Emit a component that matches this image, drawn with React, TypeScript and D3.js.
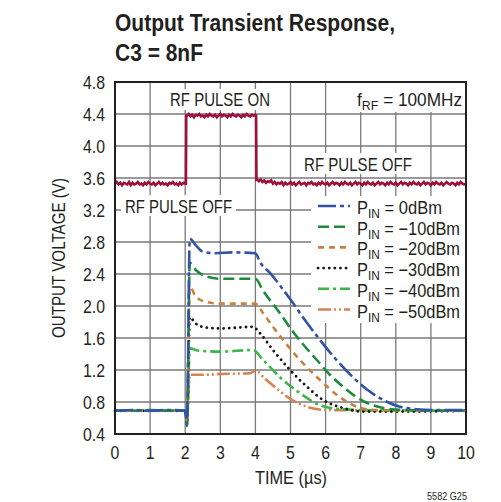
import React from "react";
import * as d3 from "d3";

const W = 501, H = 502;
const M = { left: 115, top: 82, right: 466, bottom: 434 };

const xTicks = [0, 1, 2, 3, 4, 5, 6, 7, 8, 9, 10];
const yTicks = [0.4, 0.8, 1.2, 1.6, 2.0, 2.4, 2.8, 3.2, 3.6, 4.0, 4.4, 4.8];

// RF pulse trace (noisy), sampled every 0.05µs, volts
const redLowV = [
  3.53, 3.55, 3.52, 3.54, 3.51, 3.54, 3.53, 3.52, 3.55, 3.51, 3.54, 3.52, 3.53, 3.55, 3.52, 3.53, 3.51, 3.54, 3.52, 3.55,
  3.53, 3.52, 3.54, 3.51, 3.53, 3.55, 3.52, 3.54, 3.52, 3.53, 3.51, 3.54, 3.53, 3.55, 3.52, 3.53, 3.51, 3.54, 3.52, 3.54, 3.53,
];
const redHighV = [
  4.38, 4.40, 4.37, 4.39, 4.36, 4.39, 4.38, 4.40, 4.37, 4.38, 4.36, 4.39, 4.37, 4.40, 4.38, 4.37, 4.39, 4.36, 4.38, 4.40,
  4.37, 4.39, 4.38, 4.36, 4.39, 4.37, 4.40, 4.38, 4.37, 4.39, 4.38, 4.36, 4.39, 4.37, 4.40, 4.38, 4.37, 4.39, 4.38, 4.39,
];
const redOffV = [
  3.58, 3.56, 3.58, 3.55, 3.57, 3.54, 3.56, 3.55, 3.57, 3.53,
  3.55, 3.52, 3.54, 3.53, 3.55, 3.51, 3.54, 3.52, 3.53, 3.55,
  3.52, 3.54, 3.51, 3.53, 3.55, 3.52, 3.53, 3.54, 3.51, 3.54,
  3.53, 3.55, 3.52, 3.53, 3.51, 3.54, 3.52, 3.55, 3.53, 3.52,
  3.54, 3.51, 3.53, 3.55, 3.52, 3.54, 3.53, 3.51, 3.54, 3.52,
  3.55, 3.53, 3.52, 3.54, 3.51, 3.53, 3.55, 3.52, 3.54, 3.53,
  3.51, 3.54, 3.52, 3.55, 3.53, 3.52, 3.54, 3.51, 3.53, 3.55,
  3.52, 3.54, 3.53, 3.51, 3.54, 3.52, 3.55, 3.53, 3.52, 3.54,
  3.51, 3.53, 3.55, 3.52, 3.54, 3.53, 3.51, 3.54, 3.52, 3.55,
  3.53, 3.52, 3.54, 3.51, 3.53, 3.55, 3.52, 3.54, 3.53, 3.51,
  3.54, 3.52, 3.55, 3.53, 3.52, 3.54, 3.51, 3.53, 3.55, 3.53,
  3.52, 3.54, 3.53, 3.51, 3.54, 3.52, 3.55, 3.53, 3.52, 3.53,
];
const redLowT = d3.range(0, 2.0001, 0.05);
const redHighT = d3.range(2.05, 4.0001, 0.05);
const redOffT = d3.range(4.05, 10.001, 0.05);
const redT = [...redLowT, 2.02, 2.03, ...redHighT, 4.02, 4.03, ...redOffT];
const redV = [...redLowV, 3.53, 4.38, ...redHighV, 4.38, 3.58, ...redOffV];

// Output voltage traces for each input power
const p0T = [0, 0.5, 1.0, 1.5, 2.0, 2.05, 2.13, 2.3, 2.5, 2.8, 3.4, 4.0, 4.13, 4.42, 5.0, 5.4, 5.84, 6.3, 6.78, 7.2, 7.64, 8.12, 8.6, 9.2, 10];
const p0V = [0.69, 0.70, 0.69, 0.70, 0.69, 0.52, 2.84, 2.76, 2.68, 2.66, 2.67, 2.66, 2.55, 2.41, 2.08, 1.83, 1.575, 1.33, 1.11, 0.95, 0.825, 0.74, 0.71, 0.70, 0.70];

const m10T = [0, 0.5, 1.0, 1.5, 2.0, 2.05, 2.13, 2.3, 2.6, 3.0, 4.0, 4.22, 4.7, 5.0, 5.4, 5.75, 6.1, 6.5, 6.85, 7.17, 7.64, 8.2, 10];
const m10V = [0.69, 0.69, 0.70, 0.69, 0.69, 0.50, 2.54, 2.45, 2.37, 2.34, 2.34, 2.19, 1.91, 1.72, 1.50, 1.325, 1.15, 0.99, 0.87, 0.79, 0.725, 0.70, 0.69];

const m20T = [0, 2.0, 2.05, 2.13, 2.3, 2.6, 3.0, 4.0, 4.22, 4.5, 4.79, 5.27, 5.84, 6.41, 6.89, 7.4, 10];
const m20V = [0.69, 0.69, 0.55, 2.24, 2.12, 2.05, 2.03, 2.03, 1.91, 1.74, 1.575, 1.325, 1.075, 0.86, 0.74, 0.70, 0.69];

const m30T = [0, 2.0, 2.05, 2.13, 2.3, 2.6, 3.0, 3.93, 4.13, 4.5, 4.99, 5.47, 5.93, 6.5, 7.07, 8.0, 10];
const m30V = [0.69, 0.69, 0.55, 1.86, 1.78, 1.73, 1.72, 1.74, 1.66, 1.45, 1.20, 0.99, 0.825, 0.725, 0.68, 0.68, 0.69];

const m40T = [0, 2.0, 2.05, 2.13, 2.4, 3.0, 3.93, 4.22, 4.7, 5.27, 5.84, 6.32, 7.0, 10];
const m40V = [0.69, 0.69, 0.55, 1.47, 1.44, 1.43, 1.45, 1.325, 1.11, 0.91, 0.76, 0.715, 0.70, 0.69];

const m50T = [0, 2.0, 2.05, 2.13, 2.5, 3.0, 3.85, 4.0, 4.3, 4.6, 4.99, 5.47, 6.04, 10];
const m50V = [0.69, 0.69, 0.55, 1.14, 1.14, 1.15, 1.16, 1.19, 1.08, 0.97, 0.84, 0.74, 0.70, 0.69];

const seriesLabels = ["0dBm", "\u221210dBm", "\u221220dBm", "\u221230dBm", "\u221240dBm", "\u221250dBm"];
const seriesColors = ["#3152a6", "#1f8a3e", "#c8823f", "#151515", "#3db54a", "#d4844f"];
const seriesDash = ["18 4 4 4", "11 5", "6 5", "0.1 5.5", "11 4 3 4", "13 3 2 3 2 3"];
const seriesT = [p0T, m10T, m20T, m30T, m40T, m50T];
const seriesV = [p0V, m10V, m20V, m30V, m40V, m50V];

const FONT = "'Liberation Sans', Arial, sans-serif";
const INK = "#231f20";

function CT(props: {
  x: number; y: number; sx?: number; size?: number; anchor?: string; weight?: string; len?: number;
  children: React.ReactNode;
}) {
  const { x, y, sx = 0.84, size = 18, anchor = "start", weight = "normal", len, children } = props;
  const tr = `translate(${x},${y}) scale(${len ? 1 : sx},1)`;
  return (
    <text
      transform={tr}
      fontSize={size}
      fontWeight={weight}
      textAnchor={anchor}
      fill={INK}
      textLength={len}
      lengthAdjust={len ? "spacingAndGlyphs" : undefined}
    >
      {children}
    </text>
  );
}

export default function App() {
  const x = d3.scaleLinear().domain([0, 10]).range([M.left, M.right]);
  const y = d3.scaleLinear().domain([0.4, 4.8]).range([M.bottom, M.top]);

  const mk = (ts: number[], vs: number[], curve: any) =>
    d3
      .line<number>()
      .x((_, i) => x(ts[i]))
      .y((v) => y(v))
      .curve(curve)(vs) as string;

  const order = [5, 4, 3, 2, 1, 0];
  const legendRows = [0, 1, 2, 3, 4, 5];
  const legendLen = [85, 103, 103, 103, 103, 103];

  return (
    <svg width={W} height={H} style={{ position: "absolute", left: 0, top: 0 }} fontFamily={FONT}>
      <rect x={0} y={0} width={W} height={H} fill="#fff" />
      {/* title */}
      <CT x={115} y={31} size={24} weight="bold" len={280}>Output Transient Response,</CT>
      <CT x={115} y={61} size={24} weight="bold" len={88}>C3 = 8nF</CT>

      {/* grid */}
      {xTicks.map((t) => (
        <line key={"gx" + t} x1={x(t)} x2={x(t)} y1={M.top} y2={M.bottom} stroke="#7a7a7a" strokeWidth={1.3} />
      ))}
      {yTicks.map((t) => (
        <line key={"gy" + t} x1={M.left} x2={M.right} y1={y(t)} y2={y(t)} stroke="#7a7a7a" strokeWidth={1.3} />
      ))}

      {/* white label boxes */}
      <rect x={350} y={M.top + 1} width={M.right - 351} height={29} fill="#fff" />
      <rect x={166} y={89} width={108} height={21} fill="#fff" />
      <rect x={300} y={153} width={116} height={21} fill="#fff" />
      <rect x={121} y={195} width={115} height={21} fill="#fff" />
      <rect x={311} y={196} width={M.right - 312} height={127} fill="#fff" />

      {/* traces */}
      {order.map((k) => (
        <path
          key={"s" + k}
          d={mk(seriesT[k], seriesV[k], d3.curveMonotoneX)}
          fill="none"
          stroke={seriesColors[k]}
          strokeWidth={k === 3 ? 2.8 : 2.6}
          strokeDasharray={seriesDash[k]}
          strokeLinecap={k === 3 ? "round" : "butt"}
        />
      ))}
      <path d={mk(redT, redV, d3.curveLinear)} fill="none" stroke="#9e0f3a" strokeWidth={2.6} strokeLinejoin="miter" />

      {/* frame */}
      <rect x={M.left} y={M.top} width={M.right - M.left} height={M.bottom - M.top} fill="none" stroke={INK} strokeWidth={2} />

      {/* tick labels */}
      {xTicks.map((t) => (
        <CT key={"xl" + t} x={x(t)} y={459} sx={0.88} anchor="middle">{t}</CT>
      ))}
      {yTicks.map((t) => (
        <CT key={"yl" + t} x={105} y={y(t) + 6.5} sx={0.88} anchor="end">{t.toFixed(1)}</CT>
      ))}
      <CT x={255} y={484} len={72}>TIME (µs)</CT>
      <text
        transform={`translate(65,338) rotate(-90)`}
        fontSize={18}
        fill={INK}
        textLength={160}
        lengthAdjust="spacingAndGlyphs"
      >
        OUTPUT VOLTAGE (V)
      </text>
      <CT x={427} y={500} size={10} len={40}>5582 G25</CT>

      {/* annotations */}
      <CT x={170} y={106} len={100}>RF PULSE ON</CT>
      <CT x={304} y={171} len={108}>RF PULSE OFF</CT>
      <CT x={125} y={213} len={107}>RF PULSE OFF</CT>
      <CT x={357} y={106} len={105}>
        f<tspan fontSize={13} dy={4}>RF</tspan>
        <tspan dy={-4}> = 100MHz</tspan>
      </CT>

      {/* legend */}
      {legendRows.map((k) => {
        const by = 214 + k * 20.7;
        return (
          <g key={"lg" + k}>
            <line
              x1={318}
              x2={350}
              y1={by - 8}
              y2={by - 8}
              stroke={seriesColors[k]}
              strokeWidth={k === 3 ? 2.8 : 2.6}
              strokeDasharray={seriesDash[k]}
              strokeLinecap={k === 3 ? "round" : "butt"}
            />
            <CT x={357} y={by} len={legendLen[k]}>
              P<tspan fontSize={13} dy={4}>IN</tspan>
              <tspan dy={-4}> = {seriesLabels[k]}</tspan>
            </CT>
          </g>
        );
      })}
    </svg>
  );
}
